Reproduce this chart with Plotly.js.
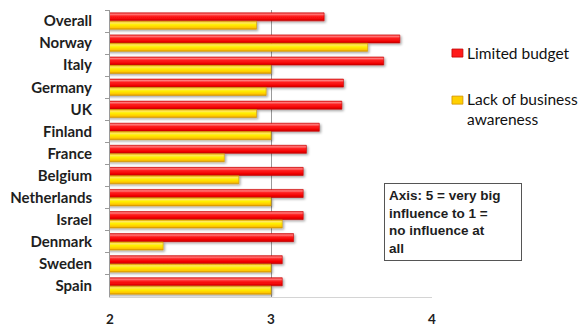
<!DOCTYPE html>
<html>
<head>
<meta charset="utf-8">
<script src="https://cdn.plot.ly/plotly-3.0.1.min.js"></script>
<style>
  html, body { margin: 0; padding: 0; background: #ffffff; }
  #chart { width: 586px; height: 327px; }
</style>
</head>
<body>
<div id="chart"></div>
<script>
// Survey results: influence of each factor (5 = very big influence, 1 = no influence)
const countries = ['Overall', 'Norway', 'Italy', 'Germany', 'UK', 'Finland', 'France',
                   'Belgium', 'Netherlands', 'Israel', 'Denmark', 'Sweden', 'Spain'];
const limitedBudget = [3.33, 3.80, 3.70, 3.45, 3.44, 3.30, 3.22, 3.20, 3.20, 3.20, 3.14, 3.07, 3.07];
const lackOfAwareness = [2.91, 3.60, 3.00, 2.97, 2.91, 3.00, 2.71, 2.80, 3.00, 3.07, 2.33, 3.00, 3.00];
const seriesNames = ['Limited budget', 'Lack of business<br>awareness'];
const xTicks = [2, 3, 4];

const traces = [
  {
    type: 'bar', orientation: 'h',
    y: countries, x: limitedBudget,
    name: seriesNames[0],
    marker: { color: '#ff1414', line: { color: '#c80000', width: 0.6 } },
    hoverinfo: 'x+y'
  },
  {
    type: 'bar', orientation: 'h',
    y: countries, x: lackOfAwareness,
    name: seriesNames[1],
    marker: { color: '#ffd200', line: { color: '#d39a00', width: 0.6 } },
    hoverinfo: 'x+y'
  }
];

const legendFont = { family: 'Lato, sans-serif', size: 15.5, color: '#111111' };

const layout = {
  width: 586, height: 327,
  margin: { l: 110, r: 154, t: 10, b: 30 },
  paper_bgcolor: '#ffffff', plot_bgcolor: '#ffffff',
  barmode: 'group',
  bargap: 0.24,
  bargroupgap: 0.04,
  showlegend: false,
  xaxis: {
    range: [2, 4],
    tickvals: xTicks,
    ticktext: xTicks.map(String),
    showgrid: true, gridcolor: '#9a9a9a', gridwidth: 1,
    zeroline: false,
    showline: true, linecolor: '#d4d4d4', linewidth: 1,
    ticks: '', ticklabelstandoff: 10,
    tickfont: { family: 'Lato, sans-serif', size: 13.5, color: '#1e1e1e', weight: 'bold' },
    fixedrange: true
  },
  yaxis: {
    type: 'category',
    categoryorder: 'array', categoryarray: countries,
    autorange: 'reversed',
    showgrid: false, zeroline: false,
    showline: true, linecolor: '#9a9a9a', linewidth: 1,
    ticks: 'outside', tickson: 'boundaries', ticklen: 4, tickcolor: '#9a9a9a',
    ticklabelstandoff: 14,
    tickfont: { family: 'Lato, sans-serif', size: 15, color: '#1e1e1e', weight: 'bold' },
    fixedrange: true
  },
  // Legend keys, drawn beside the plot
  shapes: [
    { type: 'rect', xref: 'paper', yref: 'paper', x0: 1.062, x1: 1.096, y0: 0.836, y1: 0.864,
      fillcolor: '#ff1a1a', line: { color: '#c00000', width: 0.8 } },
    { type: 'rect', xref: 'paper', yref: 'paper', x0: 1.062, x1: 1.096, y0: 0.672, y1: 0.700,
      fillcolor: '#ffd000', line: { color: '#d09000', width: 0.8 } }
  ],
  annotations: [
    { xref: 'paper', yref: 'paper', x: 1.103, y: 0.850, xanchor: 'left', yanchor: 'middle',
      text: seriesNames[0], align: 'left', showarrow: false, font: legendFont },
    { xref: 'paper', yref: 'paper', x: 1.103, y: 0.655, xanchor: 'left', yanchor: 'middle',
      text: seriesNames[1], align: 'left', showarrow: false, font: legendFont },
    {
      xref: 'paper', yref: 'paper',
      x: 0.851, y: 0.398, xanchor: 'left', yanchor: 'top',
      text: 'Axis: 5 = very big<br>influence to 1 =<br>no influence at<br>all',
      align: 'left', showarrow: false,
      width: 128,
      font: { family: 'Liberation Sans, Arial, sans-serif', size: 13.5, color: '#1e1e1e', weight: 'bold' },
      bgcolor: '#ffffff', bordercolor: '#555555', borderwidth: 1, borderpad: 4
    }
  ]
};

// Glossy vertical gradients and a soft shadow for the bars
function addGradient(defs, id, stops) {
  const ns = 'http://www.w3.org/2000/svg';
  const g = document.createElementNS(ns, 'linearGradient');
  g.setAttribute('id', id);
  g.setAttribute('x1', '0'); g.setAttribute('y1', '0');
  g.setAttribute('x2', '0'); g.setAttribute('y2', '1');
  stops.forEach(([off, col]) => {
    const s = document.createElementNS(ns, 'stop');
    s.setAttribute('offset', off);
    s.setAttribute('stop-color', col);
    g.appendChild(s);
  });
  defs.appendChild(g);
}

function styleBars(gd) {
  const ns = 'http://www.w3.org/2000/svg';
  const svg = gd.querySelector('svg.main-svg');
  let defs = svg.querySelector('defs');
  if (!defs) { defs = document.createElementNS(ns, 'defs'); svg.insertBefore(defs, svg.firstChild); }
  addGradient(defs, 'gradBudget', [
    ['0', '#f03030'], ['0.18', '#ff7a7a'], ['0.4', '#ff2020'], ['0.8', '#f00000'], ['1', '#c00000']
  ]);
  addGradient(defs, 'gradAwareness', [
    ['0', '#e8a800'], ['0.2', '#ffe860'], ['0.45', '#fff000'], ['0.8', '#ffc800'], ['1', '#d89400']
  ]);
  const f = document.createElementNS(ns, 'filter');
  f.setAttribute('id', 'barShadow');
  f.setAttribute('x', '-5%'); f.setAttribute('y', '-30%');
  f.setAttribute('width', '115%'); f.setAttribute('height', '180%');
  const ds = document.createElementNS(ns, 'feDropShadow');
  ds.setAttribute('dx', '1.5'); ds.setAttribute('dy', '1.5');
  ds.setAttribute('stdDeviation', '0.9');
  ds.setAttribute('flood-color', '#000000'); ds.setAttribute('flood-opacity', '0.35');
  f.appendChild(ds);
  defs.appendChild(f);

  const fills = ['url(#gradBudget)', 'url(#gradAwareness)'];
  gd.querySelectorAll('.barlayer .trace.bars').forEach((tr, i) => {
    tr.querySelectorAll('.point path').forEach(p => {
      p.style.fill = fills[i];
      p.setAttribute('filter', 'url(#barShadow)');
    });
  });
}

const gd = document.getElementById('chart');
Plotly.newPlot(gd, traces, layout, { displayModeBar: false, staticPlot: true })
  .then(() => styleBars(gd));
</script>
</body>
</html>
